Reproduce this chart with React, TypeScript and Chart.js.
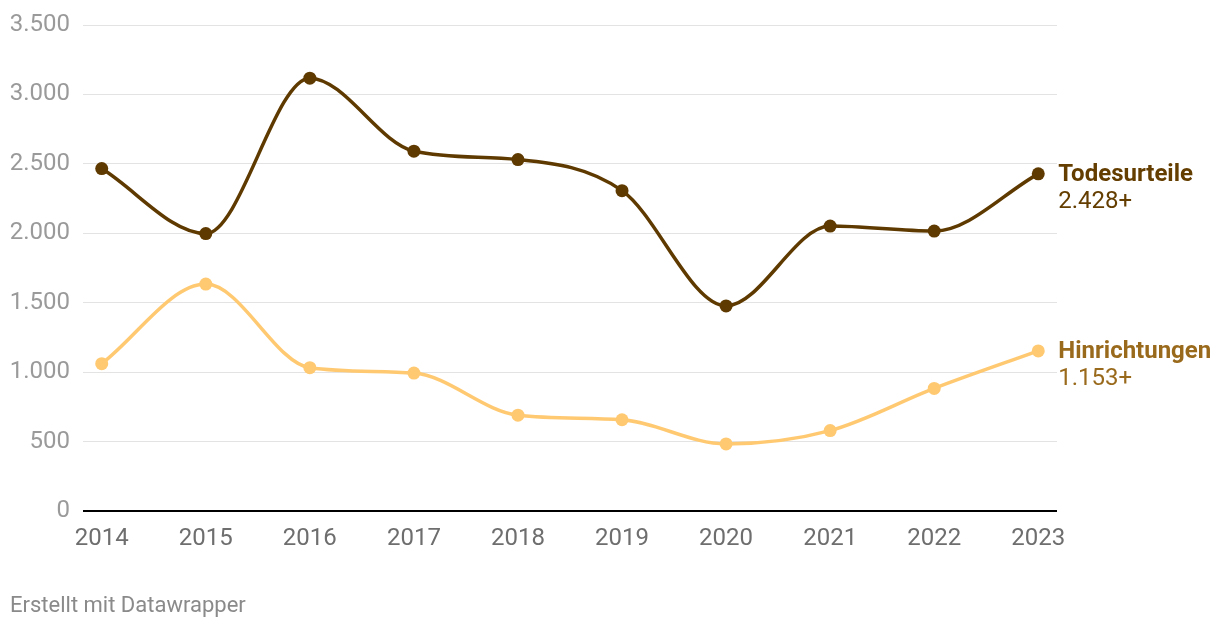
import React, { useEffect, useRef } from "react";
import { Chart, registerables } from "chart.js";

Chart.register(...registerables);

const years = [2014, 2015, 2016, 2017, 2018, 2019, 2020, 2021, 2022, 2023];
const todesurteile = [2466, 1998, 3117, 2591, 2531, 2307, 1477, 2052, 2016, 2428];
const hinrichtungen = [1061, 1634, 1032, 993, 690, 657, 483, 579, 883, 1153];
const yTicks = [0, 500, 1000, 1500, 2000, 2500, 3000, 3500];
const seriesNames = ["Todesurteile", "Hinrichtungen"];
const endValueLabels = ["2.428+", "1.153+"];
const footerText = "Erstellt mit Datawrapper";

const lineColors = ["#5f3a00", "#ffc972"];
const labelColors = ["#643d00", "#9a6a1c"];

const fmt = (v: number) => {
  const s = String(Math.round(v));
  return s.replace(/\B(?=(\d{3})+(?!\d))/g, ".");
};

const endLabelPlugin = {
  id: "endLabels",
  afterDatasetsDraw(chart: any) {
    const ctx = chart.ctx;
    ctx.save();
    chart.data.datasets.forEach((ds: any, i: number) => {
      const meta = chart.getDatasetMeta(i);
      const pt = meta.data[meta.data.length - 1];
      if (!pt) return;
      ctx.fillStyle = labelColors[i];
      ctx.textAlign = "left";
      ctx.textBaseline = "middle";
      ctx.font = "bold 24px Roboto";
      ctx.fillText(seriesNames[i], pt.x + 20, pt.y + 1);
      ctx.font = "24px Roboto";
      ctx.fillText(endValueLabels[i], pt.x + 20, pt.y + 28);
    });
    ctx.restore();
  },
};

export default function App() {
  const ref = useRef<HTMLCanvasElement | null>(null);
  useEffect(() => {
    if (!ref.current) return;
    const mk = (arr: number[]) => years.map((y, i) => ({ x: y, y: arr[i] }));
    const chart = new Chart(ref.current, {
      type: "line",
      data: {
        datasets: [
          {
            label: seriesNames[0],
            data: mk(todesurteile),
            borderColor: lineColors[0],
            backgroundColor: lineColors[0],
            borderWidth: 3.5,
            pointRadius: 6.5,
            pointHoverRadius: 6.5,
            pointBorderWidth: 0,
            cubicInterpolationMode: "monotone",
          },
          {
            label: seriesNames[1],
            data: mk(hinrichtungen),
            borderColor: lineColors[1],
            backgroundColor: lineColors[1],
            borderWidth: 3.5,
            pointRadius: 6.5,
            pointHoverRadius: 6.5,
            pointBorderWidth: 0,
            cubicInterpolationMode: "monotone",
          },
        ],
      },
      options: {
        animation: false,
        responsive: false,
        maintainAspectRatio: false,
        layout: { padding: { left: 0, right: 163, top: 24, bottom: 73 } },
        plugins: { legend: { display: false }, tooltip: { enabled: false } },
        scales: {
          x: {
            type: "linear",
            min: 2013.82,
            max: 2023.18,
            afterBuildTicks: (scale: any) => {
              scale.ticks = years.map((v) => ({ value: v }));
            },
            afterFit: (scale: any) => {
              scale.height = 44;
            },
            grid: { display: false, drawTicks: false },
            border: { display: false },
            ticks: {
              autoSkip: false,
              maxRotation: 0,
              padding: 14,
              color: "#6e6e6e",
              font: { family: "Roboto", size: 24 },
              callback: (v: any) => String(v),
            },
          },
          y: {
            min: 0,
            max: 3500,
            afterBuildTicks: (scale: any) => {
              scale.ticks = yTicks.map((v) => ({ value: v }));
            },
            afterFit: (scale: any) => {
              scale.width = 83;
            },
            border: { display: false },
            grid: {
              drawTicks: false,
              color: (c: any) => (c.tick && c.tick.value === 0 ? "#000000" : "#e3e3e3"),
              lineWidth: (c: any) => (c.tick && c.tick.value === 0 ? 2 : 1),
            },
            ticks: {
              padding: 13,
              color: "#9a9a9a",
              font: { family: "Roboto", size: 24, lineHeight: 1 },
              callback: (v: any) => fmt(Number(v)),
            },
          },
        },
      },
      plugins: [endLabelPlugin],
    } as any);
    return () => chart.destroy();
  }, []);

  return (
    <div style={{ position: "absolute", left: 0, top: 0, width: 1220, height: 628, background: "#fff", fontFamily: "Roboto" }}>
      <canvas ref={ref} width={1220} height={628} style={{ position: "absolute", left: 0, top: 0 }} />
      <div style={{ position: "absolute", left: 10, top: 592, fontSize: 22, lineHeight: "26px", color: "#8a8a8a", fontFamily: "Roboto", whiteSpace: "nowrap" }}>
        {footerText}
      </div>
    </div>
  );
}
